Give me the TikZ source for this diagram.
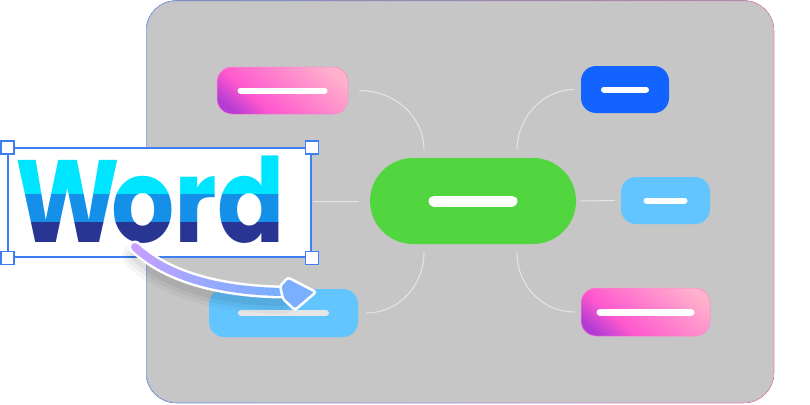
\documentclass[tikz,border=0pt]{standalone}
\usepackage{fontspec}
\newfontfamily\wordfont{Poppins}

\definecolor{panelgray}{HTML}{C6C6C6}
\definecolor{hubgreen}{HTML}{52D63F}
\definecolor{deepblue}{HTML}{1263FF}
\definecolor{skyblue}{HTML}{63C5FF}
\definecolor{pkA}{HTML}{B33CD4}
\definecolor{pkB}{HTML}{FF58CE}
\definecolor{pkC}{HTML}{FFB2CC}
\definecolor{linkgray}{HTML}{E6E6E6}
\definecolor{selblue}{HTML}{3D7EF2}
\definecolor{wcyan}{HTML}{00E5FF}
\definecolor{wmid}{HTML}{1590E8}
\definecolor{wdark}{HTML}{283593}
\definecolor{arrA}{HTML}{C9A0FF}
\definecolor{arrB}{HTML}{7AAEFF}
\definecolor{edgeL}{HTML}{90AEEE}
\definecolor{edgeR}{HTML}{E8A2C8}

\pgfdeclarehorizontalshading{pinkfade}{100bp}{color(0bp)=(pkA); color(22bp)=(pkA); color(36bp)=(pkB); color(78bp)=(pkC); color(100bp)=(pkC)}

\tikzset{
	topic/.style={rectangle,rounded corners=15pt,inner sep=0pt,minimum height=47pt},
	pinktopic/.style={topic,shade,shading=pinkfade,shading angle=50,draw=pkB!50!pkC,line width=0.5pt},
	link/.style={draw=linkgray,line width=1pt},
	handle/.style={rectangle,draw=selblue,fill=white,line width=1.2pt,minimum size=13pt,inner sep=0pt},
	wordtext/.style={anchor=base west,inner sep=0pt,xscale=0.85,font=\wordfont\bfseries\fontsize{117}{120}\selectfont}
}

\begin{document}
\begin{tikzpicture}[x=1pt,y=-1pt]
			\useasboundingbox (0,0) rectangle (810,404);
			\fill[left color=edgeL,right color=edgeR,rounded corners=30pt] (146,0.5) rectangle (774,403);
			\fill[panelgray,rounded corners=29pt] (147,1.5) rectangle (773,402);

			\draw (473,201) node [topic,fill=hubgreen,rounded corners=43pt,minimum width=206pt,minimum height=86pt] (c) {};
			\draw (282.5,90.5) node [pinktopic,minimum width=131pt] (tl) {};
			\draw (625,89.5) node [topic,fill=deepblue,minimum width=88pt] (tr) {};
			\draw (665.5,200.5) node [topic,fill=skyblue,minimum width=89pt] (r) {};
			\draw (645.5,312) node [pinktopic,minimum width=129pt,minimum height=48pt] (br) {};
			\draw (283.5,313) node [topic,fill=skyblue,minimum width=149pt,minimum height=48pt] (bl) {};

			\foreach \n/\l/\w in {c/39/11, tl/42/6, tr/21/6, r/19/6, br/45.5/7}
				\draw[white,line width=\w pt,line cap=round] ([xshift=-\l pt]\n.center) -- ([xshift=\l pt]\n.center);
			\draw[linkgray,line width=6pt,line cap=round] ([xshift=-42.5pt]bl.center) -- ([xshift=42.5pt]bl.center);

			\draw[link] ([xshift=11pt]tl.east) .. controls +(36,0) and +(0,-33) .. ([xshift=-49pt,yshift=8pt]c.north);
			\draw[link] ([xshift=-7pt]tr.west) .. controls +(-31,0) and +(0,-32) .. ([xshift=44pt,yshift=8pt]c.north);
			\draw[link] ([xshift=8pt]bl.east) .. controls +(32,0) and +(0,34) .. ([xshift=-49pt,yshift=-8pt]c.south);
			\draw[link] ([xshift=-6pt]br.west) .. controls +(-32,0) and +(0,34) .. ([xshift=44pt,yshift=-8pt]c.south);
			\draw[link] ([xshift=4pt]c.east) -- ([xshift=-6pt]r.west);

			\draw (159.5,202.5) node [rectangle,draw=selblue,fill=white,line width=1.2pt,minimum width=303pt,minimum height=109pt,inner sep=0pt] (wbox) {};
			\draw[link] ([xshift=-11pt]c.west) -- ([xshift=1pt]wbox.east |- c.west);
			\foreach \a/\n in {north west/hnw, north east/hne, south west/hsw, south east/hse}
				\node [handle] (\n) at (wbox.\a) {};

			\foreach \col/\ya/\yb [count=\k] in {wcyan/150/194, wmid/194/222.5, wdark/222.5/256} {
				\begin{scope}
					\clip (10,\ya) rectangle (305,\yb);
					\node [wordtext,text=\col] (word\k) at (15,242) {W\kern-10pt ord};
				\end{scope}
			}

			\coordinate (a0) at (135,247);
			\coordinate (a1) at (165,275);
			\coordinate (a2) at (215,291);
			\coordinate (a3) at (283,292);
			\foreach \s/\o in {26/0.035, 18/0.045, 10/0.055}
				\draw[black,opacity=\o,line width=\s pt,line cap=round] ([yshift=-9pt]a0) .. controls ([yshift=-9pt]a1) and ([yshift=-9pt]a2) .. ([yshift=-9pt]a3);
			\draw[white,line width=13pt,line cap=round] (a0) .. controls (a1) and (a2) .. (a3);
			\foreach \i [evaluate=\i as \ta using \i/30, evaluate=\i as \tb using (\i+1)/30, evaluate=\i as \p using int(100-\i*100/29)] in {0,...,29} {
				\path (a0) .. controls (a1) and (a2) .. (a3) coordinate [pos=\ta] (s1) coordinate [pos=\tb] (s2);
				\draw[arrA!\p!arrB,line width=8pt,line cap=round] (s1) -- (s2);
			}
			\draw[white,line width=2.5pt,fill=arrB,rounded corners=2.5pt] (280,286) -- (288,277.5) -- (316,292) -- (295,310) -- (283,299) -- cycle;
		\end{tikzpicture}
\end{document}
